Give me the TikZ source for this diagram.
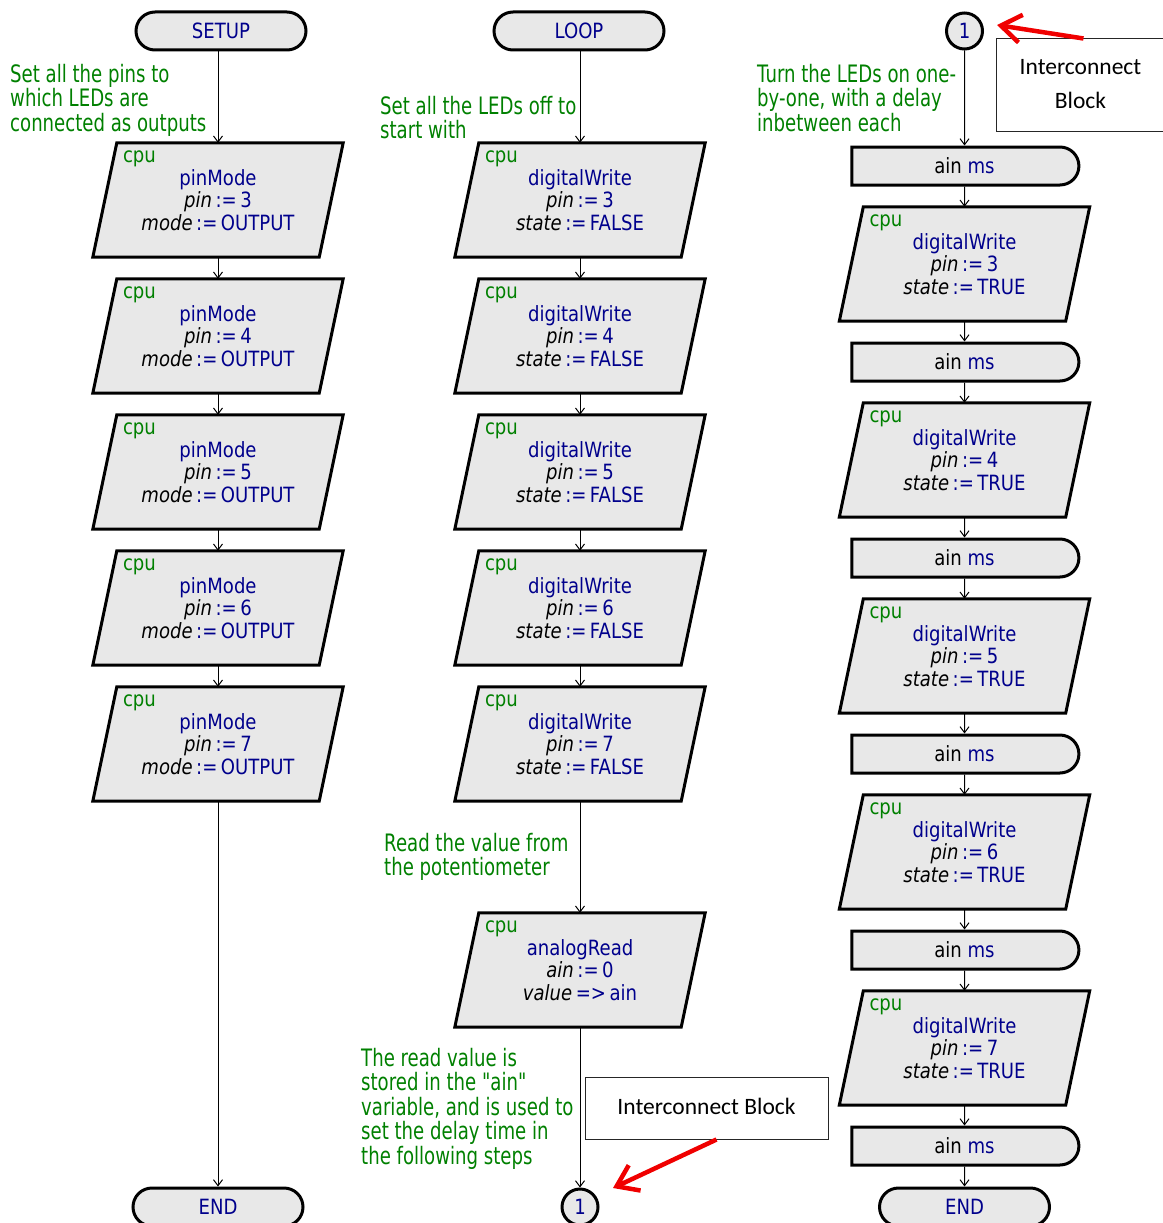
\documentclass[tikz,border=0pt]{standalone}
\usepackage{fontspec}
\setmainfont[FakeStretch=0.86]{DejaVu Sans}
\newfontfamily\notefont[FakeStretch=0.755]{DejaVu Sans}
\newfontfamily\calib{Carlito}
\usetikzlibrary{shapes.misc,arrows.meta,backgrounds}
\definecolor{navyc}{RGB}{0,0,140}
\definecolor{greenc}{RGB}{0,128,0}
\definecolor{boxgray}{RGB}{232,232,232}
\definecolor{redc}{RGB}{240,0,0}
\newcommand\pv[1]{\textcolor{black}{\itshape #1}}
\newcommand\cpublk[4]{%
  \node[blk] (#1) at (#2,#3) {#4};
  \begin{pgfonlayer}{background}
    \draw[pshape] ([xshift=24pt]#1.north west) -- (#1.north east) -- ([xshift=-24pt]#1.south east) -- (#1.south west) -- cycle;
  \end{pgfonlayer}
  \node[cpulbl] (#1c) at ([xshift=30pt,yshift=-20pt]#1.north west) {cpu};
}
\begin{document}
\begin{tikzpicture}[x=1pt,y=-1pt,
  blk/.style={rectangle, minimum width=250pt, minimum height=114pt, inner sep=0pt, align=center, text=navyc, font=\fontsize{21}{22.5}\selectfont},
  pshape/.style={draw=black, line width=3pt, fill=boxgray, line join=miter},
  cpulbl/.style={anchor=base west, inner sep=0pt, text=greenc, font=\fontsize{21}{22.5}\selectfont},
  term/.style={rounded rectangle, draw, line width=3pt, fill=boxgray, minimum width=170pt, minimum height=38pt, inner sep=0pt, text=navyc, font=\fontsize{21}{22.5}\selectfont},
  dly/.style={rounded rectangle, rounded rectangle left arc=none, draw, line width=3pt, fill=boxgray, minimum width=227pt, minimum height=38pt, inner sep=0pt, text=navyc, font=\fontsize{21}{22.5}\selectfont},
  conn/.style={circle, draw, line width=3pt, fill=boxgray, minimum size=36pt, inner sep=0pt, text=navyc, font=\fontsize{21}{22.5}\selectfont},
  note/.style={anchor=north west, inner sep=0pt, align=left, text=greenc, font=\notefont\fontsize{24}{24.5}\selectfont},
  ibox/.style={rectangle, draw=black!85, line width=1pt, inner sep=0pt, align=center, font=\calib\fontsize{23.5}{34}\selectfont},
  arr/.style={-{Straight Barb[length=6pt,width=9pt]}, line width=1pt},
  redarr/.style={draw=redc, line width=4.5pt, -{Straight Barb[length=20pt,width=28pt]}}
]
\useasboundingbox (0,0) rectangle (1162,1223);

% ---------- left column ----------
\node[term] (setup) at (221,31) {SETUP};
\cpublk{p1}{218}{200}{pinMode\\\pv{pin}\,:=\,3\\\pv{mode}\,:=\,OUTPUT}
\cpublk{p2}{218}{336}{pinMode\\\pv{pin}\,:=\,4\\\pv{mode}\,:=\,OUTPUT}
\cpublk{p3}{218}{472}{pinMode\\\pv{pin}\,:=\,5\\\pv{mode}\,:=\,OUTPUT}
\cpublk{p4}{218}{608}{pinMode\\\pv{pin}\,:=\,6\\\pv{mode}\,:=\,OUTPUT}
\cpublk{p5}{218}{744}{pinMode\\\pv{pin}\,:=\,7\\\pv{mode}\,:=\,OUTPUT}
\node[term] (end1) at (218,1207) {END};
\draw[arr] (setup.south -| p1.north) -- (p1);
\draw[arr] (p1) -- (p2);
\draw[arr] (p2) -- (p3);
\draw[arr] (p3) -- (p4);
\draw[arr] (p4) -- (p5);
\draw[arr] (p5) -- (end1);
\node[note] (n1) at (10,64) {Set all the pins to\\which LEDs are\\connected as outputs};

% ---------- middle column ----------
\node[term] (loop) at (579,31) {LOOP};
\cpublk{q1}{580}{200}{digitalWrite\\\pv{pin}\,:=\,3\\\pv{state}\,:=\,FALSE}
\cpublk{q2}{580}{336}{digitalWrite\\\pv{pin}\,:=\,4\\\pv{state}\,:=\,FALSE}
\cpublk{q3}{580}{472}{digitalWrite\\\pv{pin}\,:=\,5\\\pv{state}\,:=\,FALSE}
\cpublk{q4}{580}{608}{digitalWrite\\\pv{pin}\,:=\,6\\\pv{state}\,:=\,FALSE}
\cpublk{q5}{580}{744}{digitalWrite\\\pv{pin}\,:=\,7\\\pv{state}\,:=\,FALSE}
\cpublk{q6}{580}{970}{analogRead\\\pv{ain}\,:=\,0\\\pv{value}\,=>\,ain}
\node[conn] (cb) at (580,1207) {1};
\draw[arr] (loop.south -| q1.north) -- (q1);
\draw[arr] (q1) -- (q2);
\draw[arr] (q2) -- (q3);
\draw[arr] (q3) -- (q4);
\draw[arr] (q4) -- (q5);
\draw[arr] (q5) -- (q6);
\draw[arr] (q6) -- (cb);
\node[note] (n2) at (380,96) {Set all the LEDs off to\\start with};
\node[note] (n4) at (384,833) {Read the value from\\the potentiometer};
\node[note] (n5) at (361,1048) {The read value is\\stored in the "ain"\\variable, and is used to\\set the delay time in\\the following steps};

% ---------- right column ----------
\node[conn] (ct) at (964.5,31) {1};
\node[dly] (d1) at (964.5,166) {\textcolor{black}{ain} ms};
\cpublk{r1}{964.5}{264}{digitalWrite\\\pv{pin}\,:=\,3\\\pv{state}\,:=\,TRUE}
\node[dly] (d2) at (964.5,362) {\textcolor{black}{ain} ms};
\cpublk{r2}{964.5}{460}{digitalWrite\\\pv{pin}\,:=\,4\\\pv{state}\,:=\,TRUE}
\node[dly] (d3) at (964.5,558) {\textcolor{black}{ain} ms};
\cpublk{r3}{964.5}{656}{digitalWrite\\\pv{pin}\,:=\,5\\\pv{state}\,:=\,TRUE}
\node[dly] (d4) at (964.5,754) {\textcolor{black}{ain} ms};
\cpublk{r4}{964.5}{852}{digitalWrite\\\pv{pin}\,:=\,6\\\pv{state}\,:=\,TRUE}
\node[dly] (d5) at (964.5,950) {\textcolor{black}{ain} ms};
\cpublk{r5}{964.5}{1048}{digitalWrite\\\pv{pin}\,:=\,7\\\pv{state}\,:=\,TRUE}
\node[dly] (d6) at (964.5,1146) {\textcolor{black}{ain} ms};
\node[term] (end2) at (964.5,1207) {END};
\draw[arr] (ct) -- (d1);
\draw[arr] (d1) -- (r1);
\draw[arr] (r1) -- (d2);
\draw[arr] (d2) -- (r2);
\draw[arr] (r2) -- (d3);
\draw[arr] (d3) -- (r3);
\draw[arr] (r3) -- (d4);
\draw[arr] (d4) -- (r4);
\draw[arr] (r4) -- (d5);
\draw[arr] (d5) -- (r5);
\draw[arr] (r5) -- (d6);
\draw[arr] (d6) -- (end2);
\node[note] (n3) at (757,64) {Turn the LEDs on one-\\by-one, with a delay\\inbetween each};

% ---------- interconnect annotations ----------
\node[ibox, minimum width=169pt, minimum height=92pt] (ib1) at (1080.5,85) {\raisebox{2pt}{Interconnect}\\\raisebox{2pt}{Block}};
\node[ibox, minimum width=243pt, minimum height=62pt] (ib2) at (706.5,1108) {\raisebox{4pt}{Interconnect Block}};
\coordinate (t1) at (997,25);
\coordinate (t2) at (613,1188);
\draw[redarr] ([xshift=3pt]ib1.north) -- (t1);
\draw[redarr] ([xshift=10pt]ib2.south) -- (t2);
\end{tikzpicture}
\end{document}
